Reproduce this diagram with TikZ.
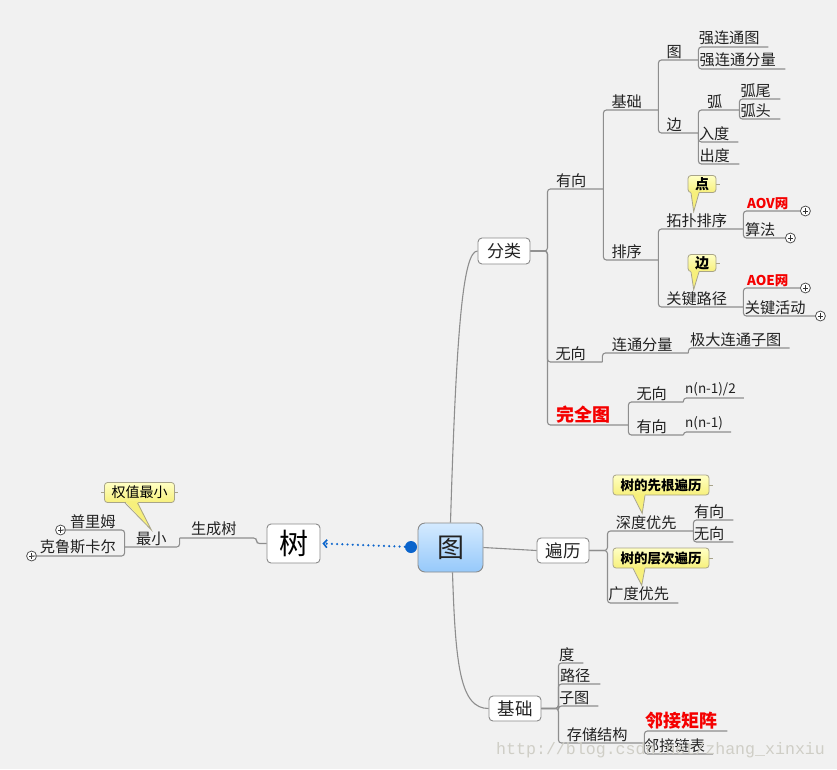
\documentclass[tikz,border=0pt]{standalone}
\usepackage{fontspec}
\setmainfont{Noto Sans CJK SC}
\newfontfamily\wmfont{Liberation Mono}
\usetikzlibrary{arrows.meta,calc}
\definecolor{bgc}{HTML}{F1F1F1}
\definecolor{linec}{HTML}{8E8E8E}
\definecolor{boxc}{HTML}{8A8A8A}
\definecolor{txtc}{HTML}{222222}
\definecolor{redc}{HTML}{F50000}
\definecolor{arrowc}{HTML}{0A64CC}
\definecolor{ylwtop}{HTML}{FFFFC4}
\definecolor{ylwbot}{HTML}{F7F07C}
\definecolor{ylwb}{HTML}{A8A48A}
\definecolor{wmc}{HTML}{CFCEC6}
\definecolor{bluetop}{HTML}{D4EAFF}
\definecolor{bluebot}{HTML}{96C9FA}
\newcommand\myfs[1]{\fontsize{#1}{#1}\selectfont}
\newcommand\calltail[4]{%
  \fill[ylwbot] ([xshift=#2,yshift=1.5pt]#1.south) -- (#4) -- ([xshift=#3,yshift=1.5pt]#1.south) -- cycle;
  \draw[draw=ylwb,line width=0.8pt] ([xshift=#2]#1.south) -- (#4) -- ([xshift=#3]#1.south);}
\tikzset{
  conn/.style={draw=linec, line width=1.1pt, rounded corners=3pt},
  lbl/.style={anchor=south west, inner xsep=0pt, inner ysep=1.5pt, minimum width=#1,
    text=txtc, font=\myfs{15.2}, execute at end node={\hspace*{8pt}}},
  lblL/.style={anchor=south east, inner xsep=0pt, inner ysep=1.5pt, minimum width=#1,
    text=txtc, font=\myfs{15.2}},
  redt/.style={text=redc, font=\myfs{18}\bfseries},
  redsans/.style={text=redc, font=\myfs{13.5}\bfseries},
  box/.style={draw=boxc, fill=white, rounded corners=4pt, line width=0.9pt, inner sep=0pt, text=txtc},
  callout/.style={draw=ylwb, top color=ylwtop, bottom color=ylwbot, rounded corners=3pt,
    line width=0.8pt, inner sep=0pt, text=black},
  plusc/.style={circle, draw=black!75, fill=white, line width=0.7pt, minimum size=10pt, inner sep=0pt,
    path picture={
      \draw[black!80,line width=0.8pt] ([xshift=2.3pt]path picture bounding box.west) -- ([xshift=-2.3pt]path picture bounding box.east);
      \draw[black!80,line width=0.8pt] ([yshift=-2.3pt]path picture bounding box.north) -- ([yshift=2.3pt]path picture bounding box.south);}},
  stub/.style={draw=ylwb, line width=0.8pt}
}
\begin{document}
\begin{tikzpicture}[x=1pt,y=-1pt]
\useasboundingbox (0,0) rectangle (837,769);
\fill[bgc] (0,0) rectangle (837,769);

% ---------- central and main boxes ----------
\node[draw=boxc, rounded corners=7pt, line width=0.9pt,
      top color=bluetop, bottom color=bluebot,
      minimum width=65pt, minimum height=49pt, inner sep=0pt, text=txtc, font=\myfs{27}] (tu) at (450.5,547.5) {图};
\node[box, minimum width=53pt, minimum height=39pt, font=\myfs{29}, text=black] (shu) at (293.5,543.5) {树};
\node[box, minimum width=52pt, minimum height=26pt, font=\myfs{17}] (fl) at (504,251) {分类};
\node[box, minimum width=52pt, minimum height=25pt, font=\myfs{17.5}] (bl) at (563,550.5) {遍历};
\node[box, minimum width=52pt, minimum height=25pt, font=\myfs{17.5}] (jcb) at (515,708.5) {基础};

% ---------- 分类 subtree ----------
\node[lbl=56] (yx1) at (547,189) {有向};
\node[lbl=55] (wx1) at (547,362) {无向};
\node[lbl=81, redt] (wqt) at (547,425) {完全图};
\node[lbl=55] (jc1) at (603,110) {基础};
\node[lbl=55] (px) at (603,260) {排序};
\node[lbl=40] (tu2) at (658,60) {图};
\node[lbl=40] (bian) at (658,133) {边};
\node[lbl=70] (qlt) at (698,47) {强连通图};
\node[lbl=87] (qlf) at (698,69) {强连通分量};
\node[lbl=41] (hu) at (698,110) {弧};
\node[lbl=40] (rd) at (698,142) {入度};
\node[lbl=41] (cd) at (698,164) {出度};
\node[lbl=41] (hw) at (739,99) {弧尾};
\node[lbl=41] (ht) at (739,119) {弧头};
\node[lbl=85] (tp) at (658,229) {拓扑排序};
\node[lbl=85] (gj) at (658,307) {关键路径};
\node[lbl=57, redsans] (aov) at (743,211) {AOV网};
\node[lbl=42] (sf) at (743,238) {算法};
\node[lbl=57, redsans] (aoe) at (743,288) {AOE网};
\node[lbl=72] (gjhd) at (743,316) {关键活动};
\node[lbl=84] (ltfl) at (604,353) {连通分量};
\node[lbl=98, execute at end node={}] (jdlt) at (690,348) {极大连通子图};
\node[lbl=55] (wx2) at (628,402) {无向};
\node[lbl=55] (yx2) at (628,435) {有向};
\node[lbl=57, font=\myfs{13.5}] (n1) at (685,398) {n(n-1)/2};
\node[lbl=45, font=\myfs{13.5}] (n2) at (685,432) {n(n-1)};

\node[plusc] (pl1) at ([xshift=5pt]aov.south east) {};
\node[plusc] (pl2) at ([xshift=5pt]sf.south east) {};
\node[plusc] (pl3) at ([xshift=5pt]aoe.south east) {};
\node[plusc] (pl4) at ([xshift=5pt]gjhd.south east) {};

\draw[conn] (tu.north) .. controls +(6,-200) and +(-14,0) .. (fl.west);
\draw[conn] (fl.east) -- ++(17,0) |- (yx1.south east);
\draw[conn] (fl.east) -- ++(17,0) |- (wx1.south east);
\draw[conn] (fl.east) -- ++(17,0) |- (wqt.south east);
\draw[conn] (yx1.south east) |- (jc1.south east);
\draw[conn] (yx1.south east) |- (px.south east);
\draw[conn] (jc1.south east) |- (tu2.south east);
\draw[conn] (jc1.south east) |- (bian.south east);
\draw[conn] (tu2.south east) |- (qlt.south east);
\draw[conn] (tu2.south east) |- (qlf.south east);
\draw[conn] (bian.south east) |- (hu.south east);
\draw[conn] (bian.south east) |- (rd.south east);
\draw[conn] (bian.south east) |- (cd.south east);
\draw[conn] (hu.south east) |- (hw.south east);
\draw[conn] (hu.south east) |- (ht.south east);
\draw[conn] (px.south east) |- (tp.south east);
\draw[conn] (px.south east) |- (gj.south east);
\draw[conn] (tp.south east) |- (aov.south east);
\draw[conn] (tp.south east) |- (sf.south east);
\draw[conn] (gj.south east) |- (aoe.south east);
\draw[conn] (gj.south east) |- (gjhd.south east);
\draw[conn] (wx1.south east) |- (ltfl.south east);
\draw[conn] (ltfl.south east) |- (jdlt.south east);
\draw[conn] (wqt.south east) |- (wx2.south east);
\draw[conn] (wqt.south east) |- (yx2.south east);
\draw[conn] (wx2.south east) |- (n1.south east);
\draw[conn] (yx2.south east) |- (n2.south east);

% callouts 点 / 边
\node[callout, minimum width=28pt, minimum height=17pt, font=\myfs{14}\bfseries] (cd1) at (702,184) {点};
\node[callout, minimum width=28pt, minimum height=17pt, font=\myfs{14}\bfseries] (cd2) at (702,263) {边};
\calltail{cd1}{-11pt}{-3pt}{[xshift=-7pt]tp.north}
\calltail{cd2}{-11pt}{-3pt}{[xshift=-7pt]gj.north}
\draw[stub] (cd1.east) -- ++(4,0);
\draw[stub] (cd2.east) -- ++(4,0);

% ---------- 遍历 subtree ----------
\node[lbl=86] (sd) at (607,531) {深度优先};
\node[lbl=71] (gd) at (607,603) {广度优先};
\node[lbl=40] (yx3) at (693,520) {有向};
\node[lbl=40] (wx3) at (693,542) {无向};
\draw[conn] (tu.east) -- (bl.west);
\draw[conn] (bl.east) -- ++(18,0) |- (sd.south east);
\draw[conn] (bl.east) -- ++(18,0) |- (gd.south east);
\draw[conn] (sd.south east) |- (yx3.south east);
\draw[conn] (sd.south east) |- (wx3.south east);

\node[callout, minimum width=96pt, minimum height=20pt, font=\myfs{13.5}\bfseries] (cs1) at (661,485) {树的先根遍历};
\node[callout, minimum width=96pt, minimum height=20pt, font=\myfs{13.5}\bfseries] (cs2) at (661,558) {树的层次遍历};
\calltail{cs1}{-28pt}{-16pt}{[xshift=-8pt]sd.north}
\calltail{cs2}{-28pt}{-16pt}{[xshift=-1pt]gd.north}
\draw[stub] (cs1.east) -- ++(4,0);
\draw[stub] (cs2.east) -- ++(4,0);

% ---------- 基础 subtree ----------
\node[lbl=25] (du) at (558,663) {度};
\node[lbl=42] (lj) at (558,684) {路径};
\node[lbl=40] (zt) at (558,706) {子图};
\node[lbl=86] (ccjg) at (558,743) {存储结构};
\node[lbl=83, redt] (ljjz) at (644,731) {邻接矩阵};
\node[lbl=66, execute at end node={}] (ljlb) at (644,754) {邻接链表};
\draw[conn] ([xshift=2pt]tu.south) .. controls +(3,95) and +(-28,0) .. (jcb.west);
\draw[conn] (jcb.east) -- ++(17,0) |- (du.south east);
\draw[conn] (jcb.east) -- ++(17,0) |- (lj.south east);
\draw[conn] (jcb.east) -- ++(17,0) |- (zt.south east);
\draw[conn] (jcb.east) -- ++(17,0) |- (ccjg.south east);
\draw[conn] (ccjg.south east) |- (ljjz.south east);
\draw[conn] (ccjg.south east) |- (ljlb.south east);

% ---------- 树 subtree (left) ----------
\node[lblL=68] (sct) at (248,538) {生成树};
\node[lblL=53] (zx) at (178,547) {最小};
\node[lblL=62] (plm) at (124,530) {普里姆};
\node[lblL=92] (klsk) at (124,556) {克鲁斯卡尔};
\node[plusc] (pl5) at ([xshift=-1pt]plm.south west) {};
\node[plusc] (pl6) at (klsk.south west) {};
\draw[conn] (shu.west) -- ++(-10,0) |- (sct.south west);
\draw[conn] (sct.south west) |- (zx.south west);
\draw[conn] (zx.south west) |- (plm.south west);
\draw[conn] (zx.south west) |- (klsk.south west);
\node[callout, minimum width=70pt, minimum height=20pt, font=\myfs{14}] (cq) at (139.5,492.5) {权值最小};
\calltail{cq}{-14.5pt}{-2pt}{zx.north}
\draw[stub] (cq.east) -- ++(3,0);
\draw[stub] (cq.west) -- ++(-3,0);

% ---------- relation arrow ----------
\node[circle, fill=arrowc, minimum size=12pt, inner sep=0pt] (dot) at (411,547) {};
\draw[arrowc, line width=2.4pt, line cap=round, dash pattern=on 0.01pt off 5.2pt,
      -{Straight Barb[length=3.5pt,width=8pt,line width=1.6pt]}] (dot) -- ([xshift=2pt]shu.east);

% ---------- watermark ----------
\node[anchor=base west, inner sep=0pt, text=wmc, font=\wmfont\fontsize{16.6}{17}\selectfont] (wm) at (496,754) {http://blog.csdn.net/zhang\_xinxiu};
\end{tikzpicture}
\end{document}
